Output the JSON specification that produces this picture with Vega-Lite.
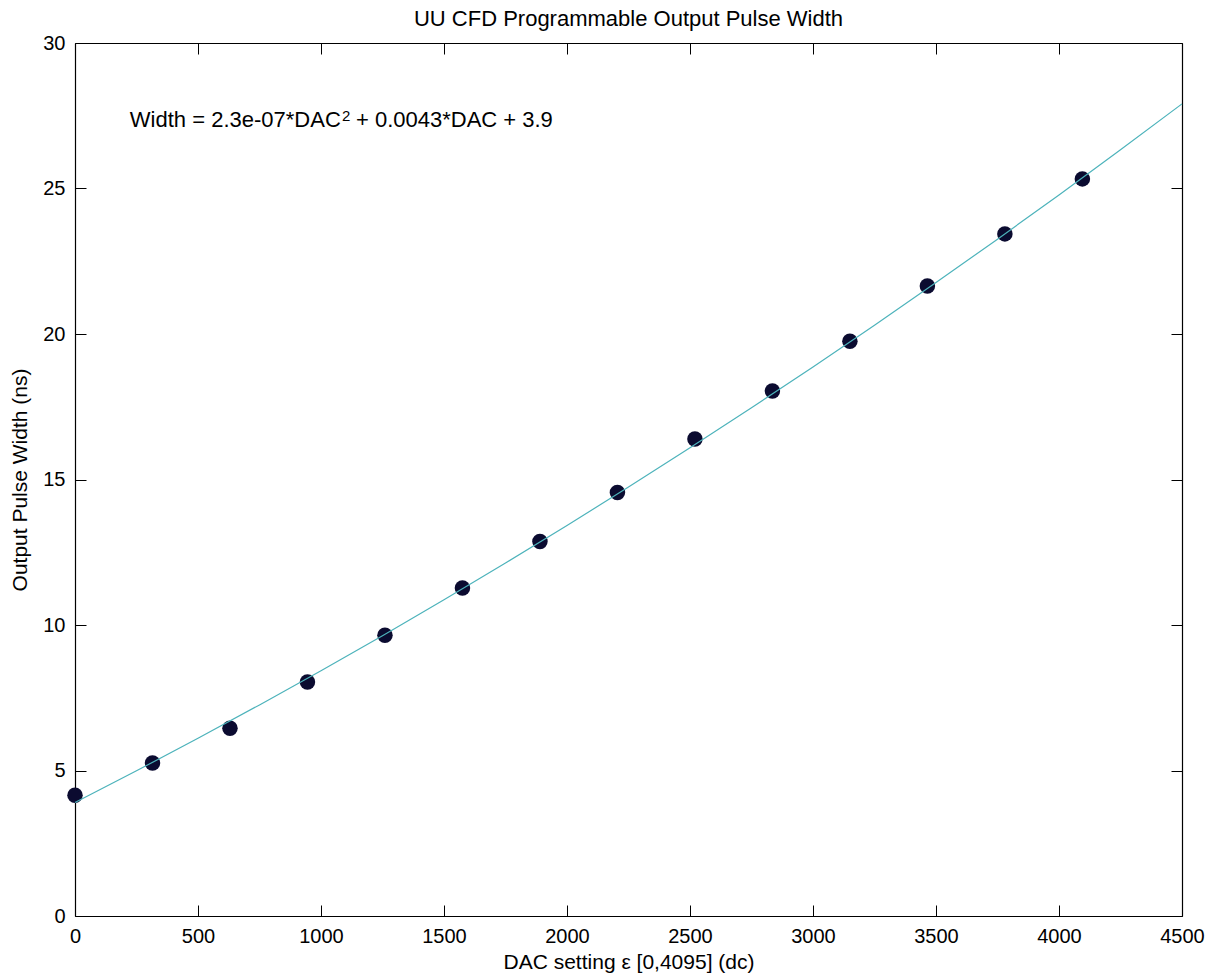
{
  "$schema": "https://vega.github.io/schema/vega-lite/v6.json",
  "autosize": "none",
  "width": 1107,
  "height": 873,
  "padding": {"left": 75, "top": 43, "right": 30, "bottom": 64},
  "background": "white",
  "config": {
    "view": {"stroke": null},
    "font": "Liberation Sans",
    "axis": {"grid": false, "domainColor": "#000000", "tickColor": "#000000", "labelColor": "#000000", "titleColor": "#000000", "labelFont": "Liberation Sans", "titleFont": "Liberation Sans", "titleFontWeight": "normal", "domainWidth": 1.2, "tickWidth": 1}
  },
  "title": {"text": "UU CFD Programmable Output Pulse Width", "fontSize": 22, "fontWeight": "normal", "font": "Liberation Sans", "color": "#000000", "anchor": "middle", "offset": 2},
  "datasets": {
    "measured": [
      {"dac": 0, "width": 4.15},
      {"dac": 315, "width": 5.26},
      {"dac": 630, "width": 6.45},
      {"dac": 945, "width": 8.04},
      {"dac": 1260, "width": 9.65},
      {"dac": 1575, "width": 11.27},
      {"dac": 1890, "width": 12.87},
      {"dac": 2205, "width": 14.55},
      {"dac": 2520, "width": 16.39},
      {"dac": 2835, "width": 18.04},
      {"dac": 3150, "width": 19.75},
      {"dac": 3465, "width": 21.65},
      {"dac": 3780, "width": 23.44},
      {"dac": 4095, "width": 25.33}
    ],
    "fit": [
      {"dac": 0, "width": 3.9},
      {"dac": 250, "width": 4.989},
      {"dac": 500, "width": 6.108},
      {"dac": 750, "width": 7.254},
      {"dac": 1000, "width": 8.43},
      {"dac": 1250, "width": 9.634},
      {"dac": 1500, "width": 10.868},
      {"dac": 1750, "width": 12.129},
      {"dac": 2000, "width": 13.42},
      {"dac": 2250, "width": 14.739},
      {"dac": 2500, "width": 16.088},
      {"dac": 2750, "width": 17.464},
      {"dac": 3000, "width": 18.87},
      {"dac": 3250, "width": 20.304},
      {"dac": 3500, "width": 21.768},
      {"dac": 3750, "width": 23.259},
      {"dac": 4000, "width": 24.78},
      {"dac": 4250, "width": 26.329},
      {"dac": 4500, "width": 27.908}
    ],
    "note": [
      {"dac": 223, "width": 27.11, "part": "main", "label": "Width = 2.3e-07*DAC"},
      {"dac": 1085, "width": 27.32, "part": "sup", "label": "2"},
      {"dac": 1142, "width": 27.11, "part": "rest", "label": "+ 0.0043*DAC + 3.9"}
    ]
  },
  "resolve": {"axis": {"x": "independent", "y": "independent"}},
  "layer": [
    {
      "data": {"name": "measured"},
      "mark": {"type": "circle", "size": 240, "color": "#0b0b30", "opacity": 1},
      "encoding": {
        "x": {"field": "dac", "type": "quantitative", "scale": {"domain": [0, 4500], "nice": false, "zero": false},
          "axis": {"orient": "bottom", "values": [0, 500, 1000, 1500, 2000, 2500, 3000, 3500, 4000, 4500], "format": "d", "tickSize": -11, "labelPadding": 21, "labelFontSize": 20, "title": "DAC setting ε [0,4095] (dc)", "titleFontSize": 21, "titlePadding": 5, "labelFlush": false}},
        "y": {"field": "width", "type": "quantitative", "scale": {"domain": [0, 30], "nice": false, "zero": false},
          "axis": {"orient": "left", "values": [0, 5, 10, 15, 20, 25, 30], "format": "d", "tickSize": -11, "labelPadding": 21, "labelFontSize": 20, "title": "Output Pulse Width (ns)", "titleFontSize": 21, "titlePadding": 12, "labelFlush": false}}
      }
    },
    {
      "data": {"name": "fit"},
      "mark": {"type": "line", "color": "#4db3bb", "strokeWidth": 1.2},
      "encoding": {
        "x": {"field": "dac", "type": "quantitative", "axis": {"orient": "top", "values": [0, 500, 1000, 1500, 2000, 2500, 3000, 3500, 4000, 4500], "tickSize": -11, "labels": false, "title": null}},
        "y": {"field": "width", "type": "quantitative", "axis": {"orient": "right", "values": [0, 5, 10, 15, 20, 25, 30], "tickSize": -11, "labels": false, "title": null}}
      }
    },
    {
      "data": {"name": "note"},
      "transform": [{"filter": "datum.part != 'sup'"}],
      "mark": {"type": "text", "align": "left", "baseline": "alphabetic", "fontSize": 22, "font": "Liberation Sans", "color": "#000000"},
      "encoding": {
        "x": {"field": "dac", "type": "quantitative", "axis": null},
        "y": {"field": "width", "type": "quantitative", "axis": null},
        "text": {"field": "label"}
      }
    },
    {
      "data": {"name": "note"},
      "transform": [{"filter": "datum.part == 'sup'"}],
      "mark": {"type": "text", "align": "left", "baseline": "alphabetic", "fontSize": 15, "font": "Liberation Sans", "color": "#000000"},
      "encoding": {
        "x": {"field": "dac", "type": "quantitative", "axis": null},
        "y": {"field": "width", "type": "quantitative", "axis": null},
        "text": {"field": "label"}
      }
    }
  ]
}
